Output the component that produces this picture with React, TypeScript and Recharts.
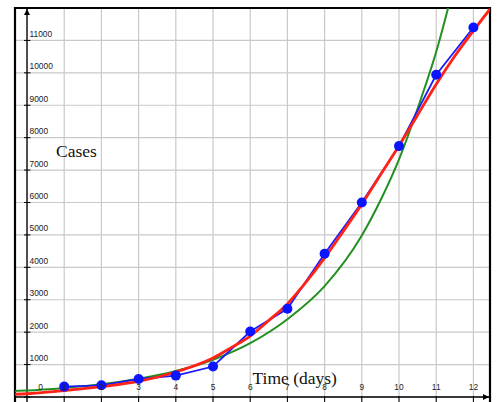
import {
  LineChart,
  Line,
  XAxis,
  YAxis,
  CartesianGrid,
  ReferenceLine,
  ReferenceArea,
  ReferenceDot,
} from "recharts";

// observed cases per day
const days = [1, 2, 3, 4, 5, 6, 7, 8, 9, 10, 11, 12];
const cases = [320, 360, 555, 660, 940, 2020, 2720, 4420, 6000, 7740, 9940, 11400];

// red fitted curve
const redX = [-0.32, 0, 1, 2, 3, 4, 5, 5.5, 6, 6.5, 7, 7.5, 8, 8.5, 9, 9.5, 10, 10.5, 11, 11.5, 12, 12.45];
const redY = [85, 100, 200, 320, 480, 770, 1200, 1530, 1880, 2360, 2870, 3540, 4290, 5110, 5950, 6850, 7750, 8700, 9650, 10520, 11300, 11970];

// green fitted curve
const greenX = [-0.32, 0, 1, 2, 3, 4, 5, 6, 7, 8, 9, 9.5, 10, 10.5, 11, 11.5];
const greenY = [185, 200, 280, 390, 560, 800, 1150, 1660, 2400, 3420, 4980, 6060, 7330, 8900, 10650, 12800];

const xTicks = [0, 1, 2, 3, 4, 5, 6, 7, 8, 9, 10, 11, 12];
const yTicks = [0, 1000, 2000, 3000, 4000, 5000, 6000, 7000, 8000, 9000, 10000, 11000];

const W = 498;
const H = 421;
// axes get 1px each (a 0px axis is not drawn at all)
const M = { top: 8, right: 8, bottom: 0, left: 14 };
const X_MIN = -0.323;
const X_MAX = 12.446;
const Y_MIN = -710;
const Y_MAX = 12000;

const PLOT_L = M.left + 1;
const PW = W - PLOT_L - M.right;
const PH = H - M.top - M.bottom - 1;
const X0 = PLOT_L + (PW * (0 - X_MIN)) / (X_MAX - X_MIN);
const Y0 = M.top + (PH * (Y_MAX - 0)) / (Y_MAX - Y_MIN);

const toPoints = (xs: number[], ys: number[]) => xs.map((x, i) => ({ x, y: ys[i] }));
const caseData = toPoints(days, cases);
const redData = toPoints(redX, redY);
const greenData = toPoints(greenX, greenY);

const SANS = "'Liberation Sans', Arial, sans-serif";
const SERIF = "'Liberation Serif', 'Times New Roman', serif";

function XTick(props: any) {
  const { x, payload } = props;
  if (payload.value === 0) return <g />;
  return (
    <g>
      <line x1={x} x2={x} y1={Y0 - 1} y2={Y0 + 5} stroke="#000" strokeWidth={1} />
      <text
        x={x}
        y={Y0 - 6.5}
        textAnchor="middle"
        style={{ fontSize: 8.4, fontFamily: SANS, fill: "#222" }}
      >
        {payload.value}
      </text>
    </g>
  );
}

function YTick(props: any) {
  const { y, payload } = props;
  const zero = payload.value === 0;
  return (
    <g>
      <line x1={X0 - 3} x2={X0 + 3.5} y1={y} y2={y} stroke="#000" strokeWidth={1} />
      <text
        x={zero ? 38.3 : 29.5}
        y={zero ? y - 6.5 : y - 3.5}
        textAnchor="start"
        style={{ fontSize: 8.4, fontFamily: SANS, fill: "#222" }}
      >
        {payload.value}
      </text>
    </g>
  );
}

const upArrow = (p: any) => (
  <polygon points={`${p.cx},${p.cy + 1} ${p.cx - 3},${p.cy + 7} ${p.cx + 3},${p.cy + 7}`} fill="#000" />
);
const rightArrow = (p: any) => (
  <polygon points={`${p.cx - 1},${p.cy} ${p.cx - 7},${p.cy - 3} ${p.cx - 7},${p.cy + 3}`} fill="#000" />
);

export default function App() {
  return (
    <div
      style={{
        position: "absolute",
        left: 0,
        top: 0,
        width: 498,
        height: 402,
        overflow: "hidden",
        background: "#fff",
      }}
    >
      <LineChart width={W} height={H} margin={M}>
        <CartesianGrid stroke="#c9c9c9" strokeWidth={1.2} />
        <XAxis
          type="number"
          dataKey="x"
          domain={[X_MIN, X_MAX]}
          allowDataOverflow
          ticks={xTicks}
          interval={0}
          height={1}
          axisLine={false}
          tickLine={false}
          tick={XTick}
        />
        <YAxis
          type="number"
          dataKey="y"
          domain={[Y_MIN, Y_MAX]}
          allowDataOverflow
          ticks={yTicks}
          interval={0}
          width={1}
          axisLine={false}
          tickLine={false}
          tick={YTick}
        />
        <ReferenceArea
          x1={X_MIN}
          x2={X_MAX}
          y1={Y_MIN}
          y2={Y_MAX}
          fill="none"
          stroke="#000"
          strokeWidth={2.2}
          fillOpacity={0}
        />
        <ReferenceLine y={0} stroke="#000" strokeWidth={1.3} />
        <ReferenceLine x={0} stroke="#000" strokeWidth={1.3} />
        <ReferenceDot x={0} y={Y_MAX} r={3} shape={upArrow} />
        <ReferenceDot x={X_MAX} y={0} r={3} shape={rightArrow} />
        <Line
          data={greenData}
          dataKey="y"
          type="monotone"
          stroke="#22901f"
          strokeWidth={2}
          dot={false}
          activeDot={false}
          isAnimationActive={false}
        />
        <Line
          data={caseData}
          dataKey="y"
          type="linear"
          stroke="#1a1aff"
          strokeWidth={1.8}
          dot={false}
          activeDot={false}
          isAnimationActive={false}
        />
        <Line
          data={redData}
          dataKey="y"
          type="monotone"
          stroke="#ff2216"
          strokeWidth={2.8}
          dot={false}
          activeDot={false}
          isAnimationActive={false}
        />
        <Line
          data={caseData}
          dataKey="y"
          type="linear"
          stroke="none"
          strokeWidth={0}
          dot={{ r: 5, fill: "#0a14ff", stroke: "none" }}
          activeDot={false}
          isAnimationActive={false}
        />
        <text x={56} y={157} style={{ fontSize: 17.5, fontFamily: SERIF, fill: "#111" }}>
          Cases
        </text>
        <text x={252.5} y={384} style={{ fontSize: 17.5, fontFamily: SERIF, fill: "#111" }}>
          Time (days)
        </text>
      </LineChart>
    </div>
  );
}
